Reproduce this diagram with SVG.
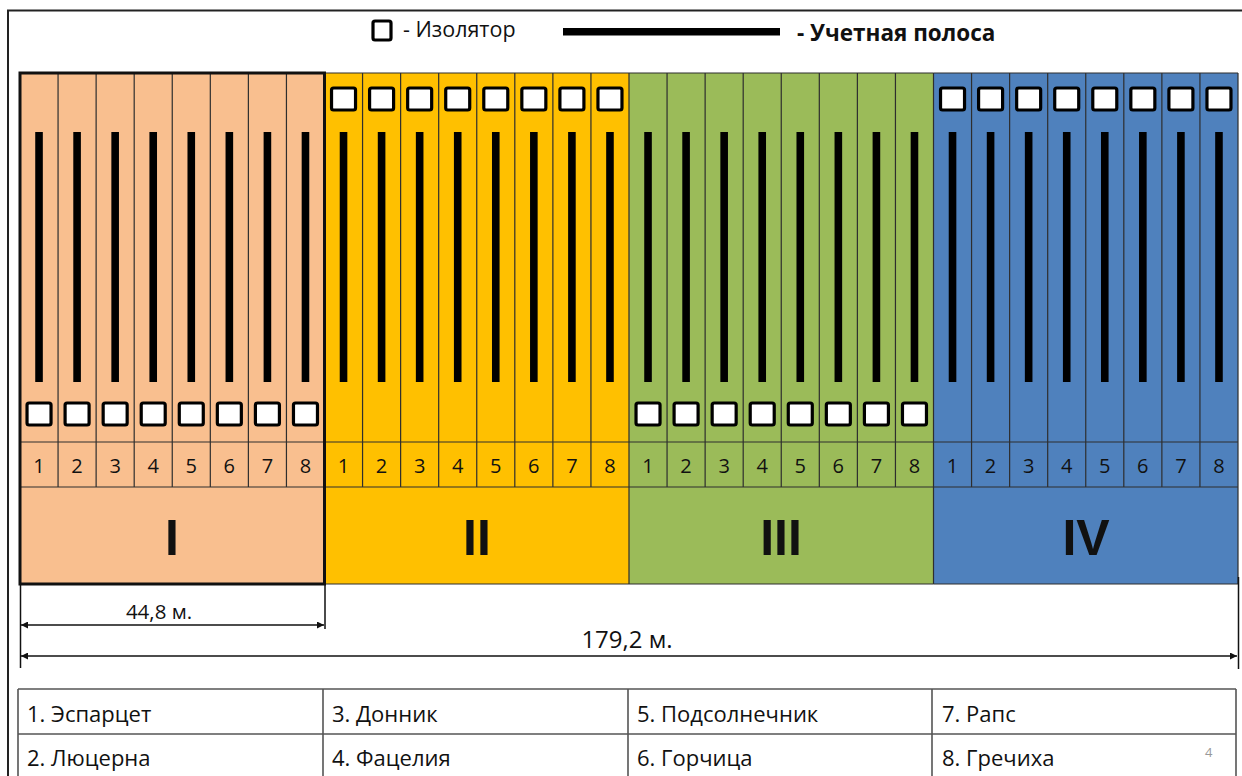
<svg xmlns="http://www.w3.org/2000/svg" width="1242" height="776" viewBox="0 0 1242 776">
<style>
.t{font-family:"Open Sans","Liberation Sans",sans-serif;fill:#111}
.num{font-size:20px;text-anchor:middle}
.rom{font-family:"Liberation Sans",sans-serif;font-weight:bold;font-size:50px;text-anchor:middle;fill:#111}
.grid{stroke:#2e2e2e;stroke-width:1.2;fill:none}
.iso{fill:#fff;stroke:#000;stroke-width:3.2}
.bar{fill:#000}
.dim{stroke:#111;stroke-width:1.5;fill:none}
.tbl{stroke:#555;stroke-width:1.6;fill:none}
.cell{font-size:22px}
</style>
<defs>
<rect id="bar" class="bar" x="-3.8" y="132" width="7.6" height="250"/>
<rect id="isoT" class="iso" x="-12" y="88" width="24" height="22" rx="2"/>
<rect id="isoB" class="iso" x="-12" y="403" width="24" height="22" rx="2"/>
<marker id="arr" viewBox="0 0 10 10" refX="10" refY="5" markerWidth="8" markerHeight="7" markerUnits="userSpaceOnUse" orient="auto-start-reverse"><path d="M0,0 L10,5 L0,10 z" fill="#111"/></marker>
</defs>
<rect width="1242" height="776" fill="#fff"/>
<path d="M8,790 V10.5 H1250" stroke="#222" stroke-width="2" fill="none"/>

<g id="legend">
<rect class="iso" x="373" y="21" width="18" height="19" rx="2" stroke-width="2.6"/>
<text class="t" x="403" y="37" font-size="21.5">- Изолятор</text>
<rect x="563" y="28" width="217" height="7.5" fill="#000"/>
<text class="t" x="797" y="41" font-size="22.5" font-weight="bold">- Учетная полоса</text>
</g>

<g id="block-I">
<rect x="20" y="73" width="304.5" height="511" fill="#F9BF8F"/>
<path class="grid" d="M58.06,73V487M96.13,73V487M134.19,73V487M172.25,73V487M210.31,73V487M248.38,73V487M286.44,73V487M20,442H324.5M20,487H324.5"/>
<use href="#bar" x="39.03"/><use href="#bar" x="77.09"/><use href="#bar" x="115.16"/><use href="#bar" x="153.22"/><use href="#bar" x="191.28"/><use href="#bar" x="229.34"/><use href="#bar" x="267.41"/><use href="#bar" x="305.47"/>
<use href="#isoB" x="39.03"/><use href="#isoB" x="77.09"/><use href="#isoB" x="115.16"/><use href="#isoB" x="153.22"/><use href="#isoB" x="191.28"/><use href="#isoB" x="229.34"/><use href="#isoB" x="267.41"/><use href="#isoB" x="305.47"/>
<g class="t num"><text x="39.03" y="473">1</text><text x="77.09" y="473">2</text><text x="115.16" y="473">3</text><text x="153.22" y="473">4</text><text x="191.28" y="473">5</text><text x="229.34" y="473">6</text><text x="267.41" y="473">7</text><text x="305.47" y="473">8</text></g>
<text class="rom" x="172" y="555">I</text>
</g>

<g id="block-II">
<rect x="324.5" y="73" width="304.5" height="511" fill="#FFC000"/>
<path class="grid" d="M324.5,73H629M362.56,73V487M400.63,73V487M438.69,73V487M476.75,73V487M514.81,73V487M552.88,73V487M590.94,73V487M324.5,442H629M324.5,487H629M324.5,584H629"/>
<use href="#bar" x="343.53"/><use href="#bar" x="381.59"/><use href="#bar" x="419.66"/><use href="#bar" x="457.72"/><use href="#bar" x="495.78"/><use href="#bar" x="533.84"/><use href="#bar" x="571.91"/><use href="#bar" x="609.97"/>
<use href="#isoT" x="343.53"/><use href="#isoT" x="381.59"/><use href="#isoT" x="419.66"/><use href="#isoT" x="457.72"/><use href="#isoT" x="495.78"/><use href="#isoT" x="533.84"/><use href="#isoT" x="571.91"/><use href="#isoT" x="609.97"/>
<g class="t num"><text x="343.53" y="473">1</text><text x="381.59" y="473">2</text><text x="419.66" y="473">3</text><text x="457.72" y="473">4</text><text x="495.78" y="473">5</text><text x="533.84" y="473">6</text><text x="571.91" y="473">7</text><text x="609.97" y="473">8</text></g>
<text class="rom" x="477" y="555">II</text>
</g>

<g id="block-III">
<rect x="629" y="73" width="304.5" height="511" fill="#9BBB59"/>
<path class="grid" d="M629,73H933.5M629,73V584M667.06,73V487M705.13,73V487M743.19,73V487M781.25,73V487M819.31,73V487M857.38,73V487M895.44,73V487M629,442H933.5M629,487H933.5M629,584H933.5"/>
<use href="#bar" x="648.03"/><use href="#bar" x="686.09"/><use href="#bar" x="724.16"/><use href="#bar" x="762.22"/><use href="#bar" x="800.28"/><use href="#bar" x="838.34"/><use href="#bar" x="876.41"/><use href="#bar" x="914.47"/>
<use href="#isoB" x="648.03"/><use href="#isoB" x="686.09"/><use href="#isoB" x="724.16"/><use href="#isoB" x="762.22"/><use href="#isoB" x="800.28"/><use href="#isoB" x="838.34"/><use href="#isoB" x="876.41"/><use href="#isoB" x="914.47"/>
<g class="t num"><text x="648.03" y="473">1</text><text x="686.09" y="473">2</text><text x="724.16" y="473">3</text><text x="762.22" y="473">4</text><text x="800.28" y="473">5</text><text x="838.34" y="473">6</text><text x="876.41" y="473">7</text><text x="914.47" y="473">8</text></g>
<text class="rom" x="781" y="555">III</text>
</g>

<g id="block-IV">
<rect x="933.5" y="73" width="304.5" height="511" fill="#4F81BD"/>
<path class="grid" d="M933.5,73H1238M933.5,73V584M971.56,73V487M1009.63,73V487M1047.69,73V487M1085.75,73V487M1123.81,73V487M1161.88,73V487M1199.94,73V487M1238,73V584M933.5,442H1238M933.5,487H1238M933.5,584H1238"/>
<use href="#bar" x="952.53"/><use href="#bar" x="990.59"/><use href="#bar" x="1028.66"/><use href="#bar" x="1066.72"/><use href="#bar" x="1104.78"/><use href="#bar" x="1142.84"/><use href="#bar" x="1180.91"/><use href="#bar" x="1218.97"/>
<use href="#isoT" x="952.53"/><use href="#isoT" x="990.59"/><use href="#isoT" x="1028.66"/><use href="#isoT" x="1066.72"/><use href="#isoT" x="1104.78"/><use href="#isoT" x="1142.84"/><use href="#isoT" x="1180.91"/><use href="#isoT" x="1218.97"/>
<g class="t num"><text x="952.53" y="473">1</text><text x="990.59" y="473">2</text><text x="1028.66" y="473">3</text><text x="1066.72" y="473">4</text><text x="1104.78" y="473">5</text><text x="1142.84" y="473">6</text><text x="1180.91" y="473">7</text><text x="1218.97" y="473">8</text></g>
<text class="rom" x="1086" y="555">IV</text>
</g>

<rect x="20" y="73" width="304.5" height="511" fill="none" stroke="#111" stroke-width="3"/>

<g id="connectors">
<path class="dim" d="M20.5,584V668M325,584V629M1238.5,577V669"/>
<line class="dim" x1="21" y1="625" x2="324" y2="625" marker-start="url(#arr)" marker-end="url(#arr)"/>
<line class="dim" x1="21" y1="656" x2="1237" y2="656" marker-start="url(#arr)" marker-end="url(#arr)"/>
<text class="t" x="159" y="619" font-size="20.5" text-anchor="middle">44,8 м.</text>
<text class="t" x="627" y="648" font-size="24" text-anchor="middle">179,2 м.</text>
</g>

<g id="table">
<path class="tbl" d="M18,689H1236M18,734H1236M18,689V790M323,689V790M628,689V790M932,689V790M1236,689V790"/>
<g class="t cell">
<text x="27" y="722">1. Эспарцет</text>
<text x="27" y="766">2. Люцерна</text>
<text x="332" y="722">3. Донник</text>
<text x="332" y="766">4. Фацелия</text>
<text x="637" y="722">5. Подсолнечник</text>
<text x="637" y="766">6. Горчица</text>
<text x="942" y="722">7. Рапс</text>
<text x="942" y="766">8. Гречиха</text>
</g>
<text class="t" x="1205" y="757" font-size="13" style="fill:#999">4</text>
</g>
</svg>
